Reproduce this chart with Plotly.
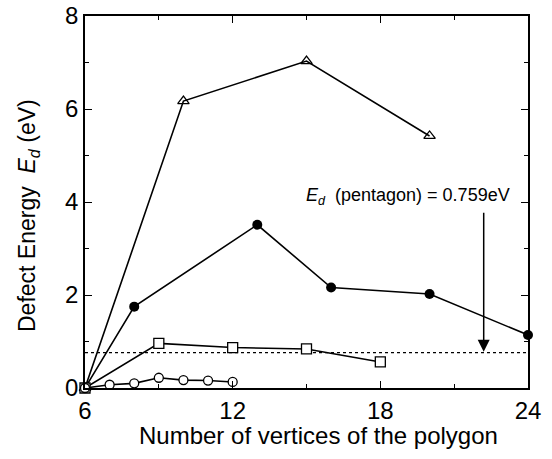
import plotly.graph_objects as go

tri_x = [6, 10, 15, 20]
tri_y = [0, 6.17, 7.03, 5.42]

fc_x = [6, 8, 13, 16, 20, 24]
fc_y = [0, 1.75, 3.51, 2.16, 2.02, 1.14]

sq_x = [6, 9, 12, 15, 18]
sq_y = [0, 0.96, 0.87, 0.84, 0.56]

oc_x = [6, 7, 8, 9, 10, 11, 12]
oc_y = [0, 0.07, 0.1, 0.22, 0.17, 0.16, 0.13]

pentagon_energy = 0.759
x_ticks = [6, 12, 18, 24]
y_ticks = [0, 2, 4, 6, 8]

FONT = "Liberation Sans, Arial, sans-serif"
fig = go.Figure()

W, H = 552, 459
L, R, T, B = 85, 24, 16, 71
PW, PH = W - L - R, H - T - B


def px(sx, sy):
    # screen pixel -> paper fraction
    return (sx - L) / PW, (H - B - sy) / PH


line = dict(color="black", width=1.6)
fig.add_trace(go.Scatter(x=[6, 24], y=[pentagon_energy, pentagon_energy], mode="lines",
                         line=dict(color="black", width=1.2, dash="dot"), hoverinfo="skip"))
fig.add_trace(go.Scatter(x=tri_x, y=tri_y, mode="lines+markers", line=line,
                         marker=dict(symbol="triangle-up-open", size=10, color="black", line=dict(width=1.3)), cliponaxis=False))
fig.add_trace(go.Scatter(x=fc_x, y=fc_y, mode="lines+markers", line=line,
                         marker=dict(symbol="circle", size=10, color="black"), cliponaxis=False))
fig.add_trace(go.Scatter(x=sq_x, y=sq_y, mode="lines+markers", line=line,
                         marker=dict(symbol="square", size=10, color="white", line=dict(color="black", width=1.3)), cliponaxis=False))
fig.add_trace(go.Scatter(x=oc_x, y=oc_y, mode="lines+markers", line=line,
                         marker=dict(symbol="circle", size=9, color="white", line=dict(color="black", width=1.3)), cliponaxis=False))

fig.add_annotation(x=22.2, y=pentagon_energy + 0.02, ax=22.2, ay=3.8, xref="x", yref="y", axref="x", ayref="y",
                   showarrow=True, arrowhead=2, arrowsize=1.6, arrowwidth=1.5, arrowcolor="black", text="")
fig.add_annotation(x=23.36, y=4.12, xref="x", yref="y", xanchor="right", yanchor="middle", showarrow=False,
                   text="<i>E</i><sub><i>d</i></sub>  (pentagon) = 0.759eV",
                   font=dict(family=FONT, size=18, color="black"))

xt = px(318, 435)
fig.add_annotation(x=xt[0], y=xt[1], xref="paper", yref="paper", showarrow=False, xanchor="center", yanchor="middle",
                   text="Number of vertices of the polygon", font=dict(family=FONT, size=24, color="black"))
yt = px(28, 216)
fig.add_annotation(x=yt[0], y=yt[1], xref="paper", yref="paper", showarrow=False, textangle=-90,
                   xanchor="center", yanchor="middle",
                   text="Defect Energy  <i>E</i><sub><i>d</i></sub> (eV)", font=dict(family=FONT, size=23, color="black"))

fig.update_layout(
    width=W, height=H,
    margin=dict(l=L, r=R, t=T, b=B),
    plot_bgcolor="white", paper_bgcolor="white",
    showlegend=False,
    font=dict(family=FONT, color="black"),
)

fig.update_xaxes(range=[6, 24], tickvals=x_ticks, ticks="inside", ticklen=7, tickwidth=1.2, tickcolor="black",
                 minor=dict(tickvals=[9, 15, 21], ticks="inside", ticklen=4, tickwidth=1.2, tickcolor="black"),
                 showline=True, linecolor="black", linewidth=1.5, mirror="ticks", showgrid=False, zeroline=False,
                 tickfont=dict(size=24), automargin=False)
fig.update_yaxes(range=[0, 8], tickvals=y_ticks, ticks="inside", ticklen=7, tickwidth=1.2, tickcolor="black",
                 minor=dict(tickvals=[1, 3, 5, 7], ticks="inside", ticklen=4, tickwidth=1.2, tickcolor="black"),
                 showline=True, linecolor="black", linewidth=1.5, mirror="ticks", showgrid=False, zeroline=False,
                 tickfont=dict(size=24), automargin=False)

fig.write_html("out.html", config={"displayModeBar": False},
               post_script="document.body.style.margin='0';")
